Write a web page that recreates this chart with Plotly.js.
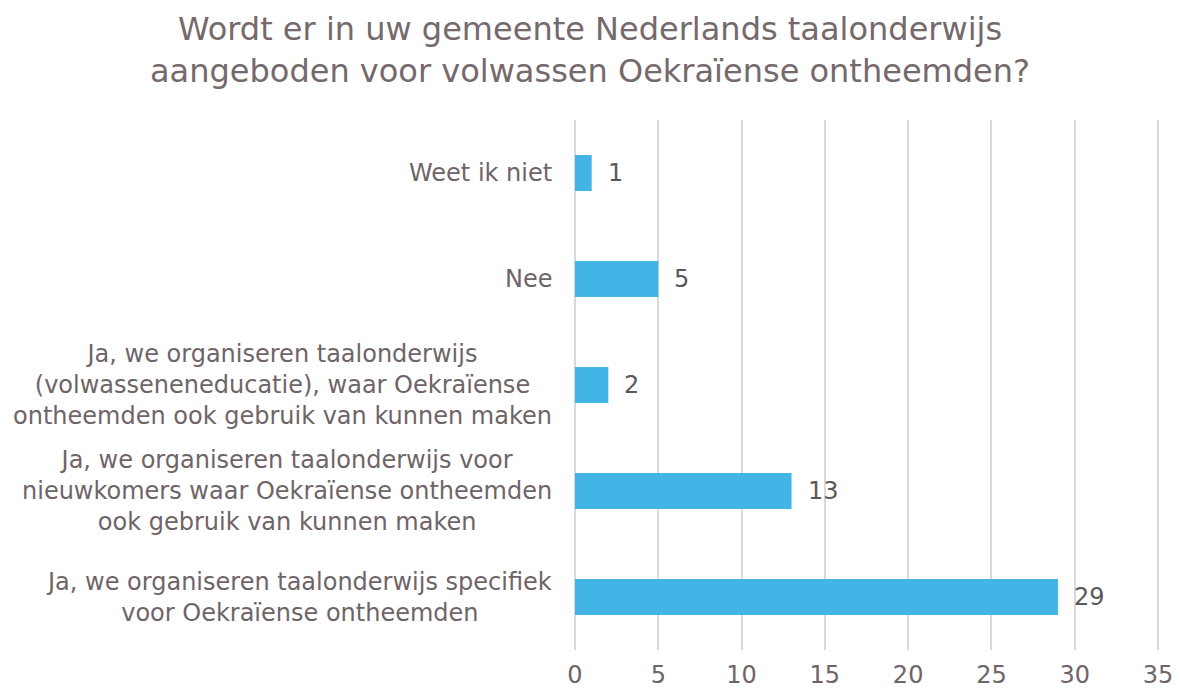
<!DOCTYPE html>
<html><head><meta charset="utf-8">
<script src="https://cdn.plot.ly/plotly-3.0.1.min.js"></script>
<style>html,body{margin:0;padding:0;background:#fff}#chart{width:1180px;height:691px}</style>
</head><body><div id="chart"></div>
<script>
const categories = [
  "Ja, we organiseren taalonderwijs specifiek<br>voor Oekraïense ontheemden",
  "Ja, we organiseren taalonderwijs voor<br>nieuwkomers waar Oekraïense ontheemden<br>ook gebruik van kunnen maken",
  "Ja, we organiseren taalonderwijs<br>(volwasseneneducatie), waar Oekraïense<br>ontheemden ook gebruik van kunnen maken",
  "Nee",
  "Weet ik niet"
];
const values = [29, 13, 2, 5, 1];
const tickVals = [0, 5, 10, 15, 20, 25, 30, 35];

const FONT = "DejaVu Sans, Verdana, sans-serif";
const TXT = "#6f6467";

const catAnn = categories.map((c) => ({
  x: 0, xref: "paper", xanchor: "right", xshift: -19,
  y: c, yref: "y", yanchor: "middle",
  text: c, showarrow: false, align: "center",
  font: {family: FONT, size: 24, color: TXT}
}));
const valAnn = categories.map((c, i) => ({
  x: values[i], xref: "x", xanchor: "left", xshift: 14,
  y: c, yref: "y", yanchor: "middle",
  text: String(values[i]), showarrow: false,
  font: {family: FONT, size: 24, color: "#595959"}
}));

Plotly.newPlot("chart", [{
  type: "bar", orientation: "h",
  x: values, y: categories,
  width: 0.34,
  marker: {color: "#42b4e6"},
  hoverinfo: "none"
}], {
  width: 1180, height: 691,
  margin: {l: 573, r: 17, t: 120, b: 41},
  paper_bgcolor: "#ffffff", plot_bgcolor: "#ffffff",
  title: {
    text: "Wordt er in uw gemeente Nederlands taalonderwijs<br>aangeboden voor volwassen Oekraïense ontheemden?",
    font: {family: FONT, size: 32, color: "#75696c"},
    x: 0.5, xanchor: "center", yref: "container", y: 0.942, yanchor: "middle"
  },
  xaxis: {
    range: [-0.12, 35.3], tickvals: tickVals, ticktext: tickVals.map(String),
    showgrid: true, gridcolor: "#d9d9d9", gridwidth: 2,
    zeroline: true, zerolinecolor: "#d9d9d9", zerolinewidth: 2,
    showline: false, ticks: "",
    ticklabelstandoff: 8,
    tickfont: {family: FONT, size: 24, color: TXT},
    fixedrange: true
  },
  yaxis: {
    categoryorder: "array", categoryarray: categories,
    showticklabels: false, showgrid: false, zeroline: false, ticks: "",
    range: [-0.5, 4.5], fixedrange: true
  },
  annotations: catAnn.concat(valAnn),
  showlegend: false
}, {displayModeBar: false, staticPlot: true});
</script></body></html>
